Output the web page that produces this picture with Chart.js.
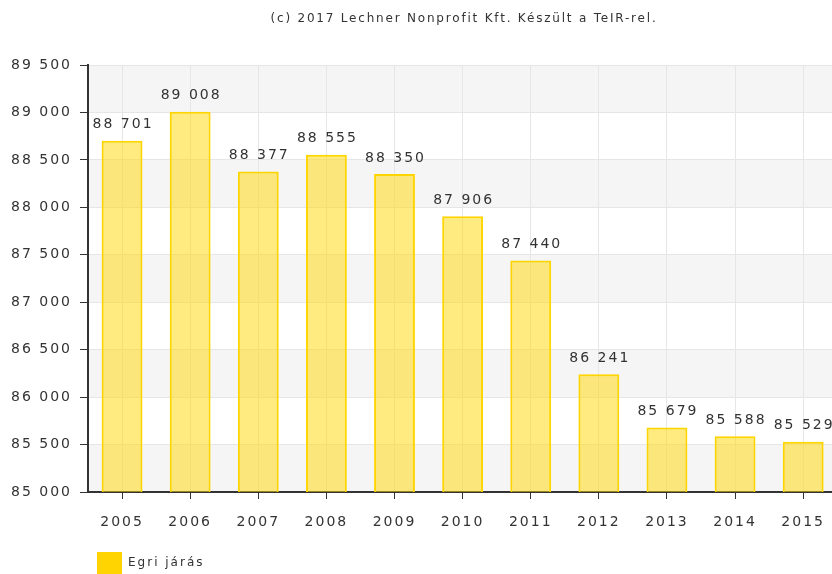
<!DOCTYPE html>
<html>
<head>
<meta charset="utf-8">
<script src="https://cdn.jsdelivr.net/npm/chart.js@4"></script>
<style>
html,body{margin:0;padding:0;overflow:hidden;background:#fff;}
#wrap{position:absolute;left:0;top:0;width:840px;height:584px;}
</style>
</head>
<body>
<div id="wrap"><canvas id="c" width="840" height="584"></canvas></div>
<script>
const categories = ['2005','2006','2007','2008','2009','2010','2011','2012','2013','2014','2015'];
const values = [88701, 89008, 88377, 88555, 88350, 87906, 87440, 86241, 85679, 85588, 85529];
const seriesName = 'Egri járás';
const titleText = '(c) 2017 Lechner Nonprofit Kft. Készült a TeIR-rel.';
const yMin = 85000, yMax = 89500, yStep = 500;

const FONT = 'DejaVu Sans';
const fmt = v => String(v).replace(/\B(?=(\d{3})+(?!\d))/g, ' ');

const spacing = {
  id: 'spacing',
  beforeInit(chart) { chart.ctx.letterSpacing = '2px'; },
  beforeUpdate(chart) { chart.ctx.letterSpacing = '2px'; },
  beforeDraw(chart) { chart.ctx.letterSpacing = '2px'; },
  afterLayout(chart) {
    if (chart.legend) { chart.legend.left += 89; chart.legend.right += 89; }
  }
};

const bands = {
  id: 'bands',
  beforeDraw(chart) {
    const {ctx, chartArea, scales: {y}} = chart;
    ctx.save();
    ctx.fillStyle = '#f5f5f5';
    let i = 0;
    for (let v = yMax; v > yMin; v -= yStep, i++) {
      if (i % 2 === 0) {
        const t = y.getPixelForValue(v), b = y.getPixelForValue(v - yStep);
        ctx.fillRect(chartArea.left, t, chartArea.right - chartArea.left, b - t);
      }
    }
    ctx.restore();
  }
};

const labels = {
  id: 'labels',
  afterDatasetsDraw(chart) {
    const {ctx} = chart;
    const meta = chart.getDatasetMeta(0);
    ctx.save();
    ctx.letterSpacing = '2px';
    ctx.font = '14px ' + FONT;
    ctx.fillStyle = '#333';
    ctx.textAlign = 'center';
    ctx.textBaseline = 'bottom';
    meta.data.forEach((bar, i) => {
      ctx.fillText(fmt(values[i]), bar.x + 1, bar.y - 9);
    });
    ctx.letterSpacing = '1.8px';
    ctx.font = '12px ' + FONT;
    ctx.textBaseline = 'middle';
    ctx.fillText(titleText, 464, 19);
    ctx.restore();
  }
};

new Chart(document.getElementById('c'), {
  type: 'bar',
  data: {
    labels: categories,
    datasets: [{
      label: seriesName,
      data: values,
      backgroundColor: 'rgba(255,215,0,0.5)',
      borderColor: '#ffd500',
      borderWidth: 2,
      barPercentage: 0.6,
      categoryPercentage: 1.0
    }]
  },
  options: {
    responsive: false,
    animation: false,
    layout: {padding: {top: 65, left: 0, right: 0, bottom: 0}},
    plugins: {
      legend: {
        position: 'bottom',
        align: 'start',
        labels: {
          font: {family: FONT, size: 12},
          color: '#333',
          boxWidth: 25,
          boxHeight: 22,
          padding: 8,
          generateLabels: () => [{text: seriesName, fillStyle: '#ffd400', strokeStyle: '#ffd400', lineWidth: 0, fontColor: '#333'}]
        }
      },
      title: {display: false},
      tooltip: {enabled: false}
    },
    scales: {
      x: {
        grid: {offset: false, color: '#e6e6e6', tickColor: '#333', tickLength: 7, drawTicks: true},
        border: {color: '#333', width: 2},
        ticks: {font: {family: FONT, size: 14}, color: '#333', padding: 15, maxRotation: 0},
        afterFit(s) { s.height = 52; }
      },
      y: {
        min: yMin, max: yMax,
        grid: {color: '#e6e6e6', tickColor: '#333', tickLength: 8},
        border: {color: '#333', width: 2},
        ticks: {stepSize: yStep, font: {family: FONT, size: 14}, color: '#333', padding: 8,
          callback: v => fmt(v)},
        afterFit(s) { s.width = 88; }
      }
    }
  },
  plugins: [spacing, bands, labels]
});
</script>
</body>
</html>
